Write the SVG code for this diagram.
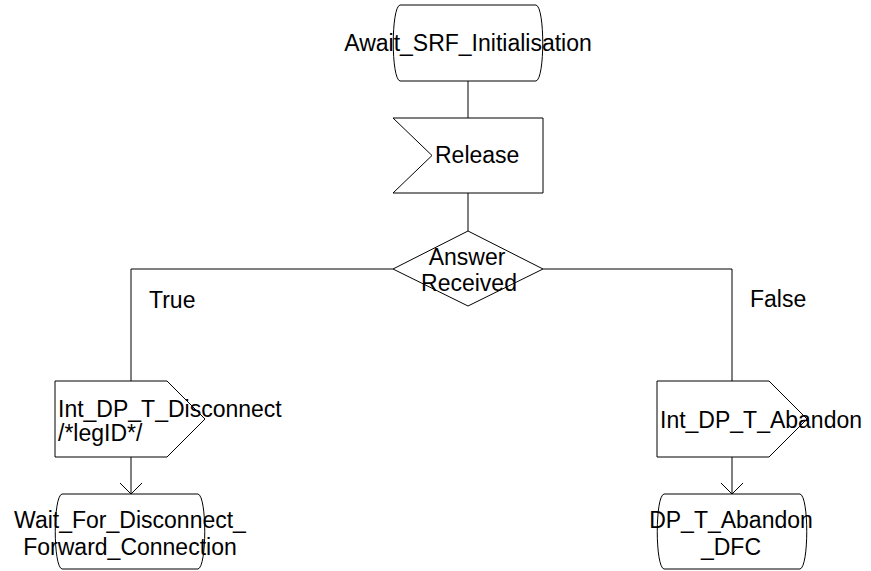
<svg xmlns="http://www.w3.org/2000/svg" width="871" height="571" viewBox="0 0 871 571">
<style>
.s{fill:#fff;stroke:#000;stroke-width:1}
.c{fill:none;stroke:#000;stroke-width:1}
text{font-family:"Liberation Sans",Arial,sans-serif;font-size:23px;fill:#000}
.m{text-anchor:middle}
</style>
<defs>
<marker id="arr" markerUnits="userSpaceOnUse" viewBox="0 -12 13 24" refX="11" refY="0" markerWidth="13" markerHeight="24" orient="auto">
<path d="M0,-11 L11,0 L0,11" fill="none" stroke="#000" stroke-width="1"/>
</marker>
</defs>
<g id="connectors">
<path class="c" d="M468,81 V118"/>
<path class="c" d="M468,193 V231"/>
<path class="c" d="M393,269 H131 V381"/>
<path class="c" d="M543,269 H732 V381"/>
<path class="c" d="M131,457 V494" marker-end="url(#arr)"/>
<path class="c" d="M732,457 V494" marker-end="url(#arr)"/>
</g>
<g id="n_await">
<path class="s" d="M400,5 H536 C545,7 545,79 536,81 H400 C391,79 391,7 400,5 Z"/>
<text class="m" x="468" y="51">Await_SRF_Initialisation</text>
</g>
<g id="n_release">
<path class="s" d="M393,118 H543 V193 H393 L432,155.5 Z"/>
<text x="435" y="163">Release</text>
</g>
<g id="n_decision">
<path class="s" d="M468,231 L543,269 L468,306 L393,269 Z"/>
<text class="m" x="467" y="265">Answer</text>
<text class="m" x="469" y="291">Received</text>
</g>
<g id="l_true">
<text x="149" y="308">True</text>
</g>
<g id="l_false">
<text x="750" y="307">False</text>
</g>
<g id="n_disconnect">
<path class="s" d="M55,381 H167 L205,419 L167,457 H55 Z"/>
<text x="58" y="417">Int_DP_T_Disconnect</text>
<text x="58" y="441">/*legID*/</text>
</g>
<g id="n_abandon">
<path class="s" d="M657,381 H769 L807,419 L769,457 H657 Z"/>
<text x="660" y="428">Int_DP_T_Abandon</text>
</g>
<g id="n_waitfor">
<path class="s" d="M62,494 H198 C207,496 207,567 198,569 H62 C53,567 53,496 62,494 Z"/>
<text class="m" x="130" y="528">Wait_For_Disconnect_</text>
<text class="m" x="130" y="555">Forward_Connection</text>
</g>
<g id="n_dfc">
<path class="s" d="M664,494 H800 C809,496 809,567 800,569 H664 C655,567 655,496 664,494 Z"/>
<text class="m" x="731" y="528">DP_T_Abandon</text>
<text class="m" x="731" y="555">_DFC</text>
</g>
</svg>
